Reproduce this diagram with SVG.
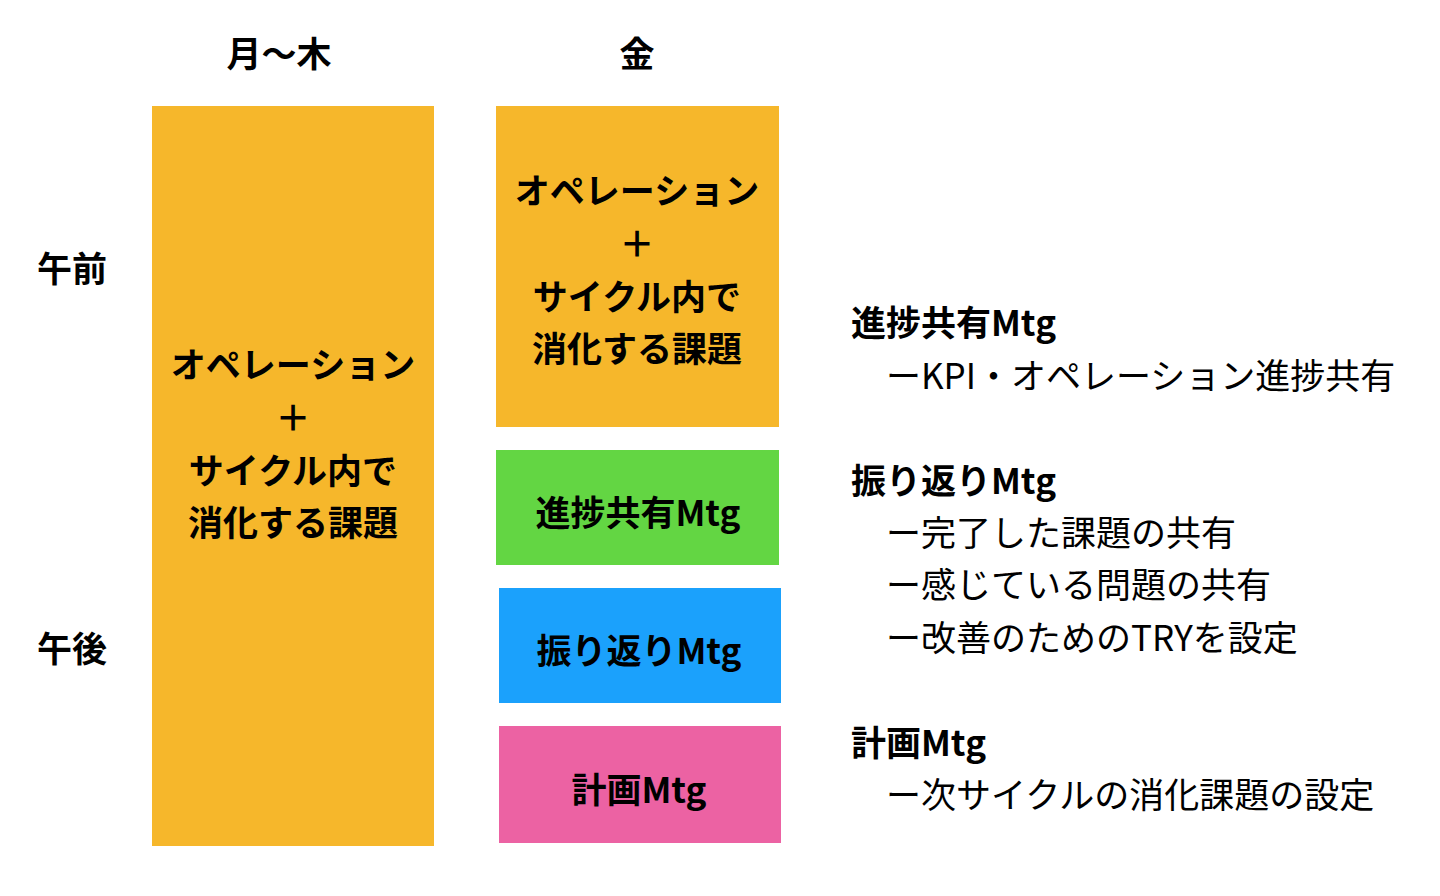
<svg xmlns="http://www.w3.org/2000/svg" width="1440" height="896" viewBox="0 0 1440 896">
<style>
text{font-family:"Noto Sans CJK JP","Noto Sans",sans-serif;font-size:35px;fill:#000}
.b{font-weight:700}
.c{text-anchor:middle}
.orange{fill:#F6B72B}
.green{fill:#63D643}
.blue{fill:#1BA1FC}
.pink{fill:#EC62A3}
</style>
<rect width="1440" height="896" fill="#fff"/>
<g id="headers">
<text class="b c" x="279" y="67">月〜木</text>
<text class="b c" x="637" y="67">金</text>
<text class="b" x="37" y="282">午前</text>
<text class="b" x="37" y="662">午後</text>
</g>
<g id="node-weekday">
<rect class="orange" x="152" y="106" width="282" height="740"/>
<text class="b c" x="293" y="378">オペレーション</text>
<text class="b c" x="293" y="431">＋</text>
<text class="b c" x="293" y="484">サイクル内で</text>
<text class="b c" x="293" y="536">消化する課題</text>
</g>
<g id="node-friday-op">
<rect class="orange" x="496" y="106" width="283" height="321"/>
<text class="b c" x="637" y="204">オペレーション</text>
<text class="b c" x="637" y="257">＋</text>
<text class="b c" x="637" y="310">サイクル内で</text>
<text class="b c" x="637" y="362">消化する課題</text>
</g>
<g id="node-progress">
<rect class="green" x="496" y="450" width="283" height="115"/>
<text class="b c" x="638" y="526">進捗共有Mtg</text>
</g>
<g id="node-retro">
<rect class="blue" x="499" y="588" width="282" height="115"/>
<text class="b c" x="639" y="664">振り返りMtg</text>
</g>
<g id="node-plan">
<rect class="pink" x="499" y="726" width="282" height="117"/>
<text class="b c" x="639" y="803">計画Mtg</text>
</g>
<g id="connectors"></g>
<g id="notes">
<text class="b" x="851" y="336">進捗共有Mtg</text>
<text x="886" y="389">ーKPI・オペレーション進捗共有</text>
<text class="b" x="851" y="494">振り返りMtg</text>
<text x="886" y="546">ー完了した課題の共有</text>
<text x="886" y="598">ー感じている問題の共有</text>
<text x="886" y="651">ー改善のためのTRYを設定</text>
<text class="b" x="851" y="756">計画Mtg</text>
<text x="886" y="808">ー次サイクルの消化課題の設定</text>
</g>
</svg>
